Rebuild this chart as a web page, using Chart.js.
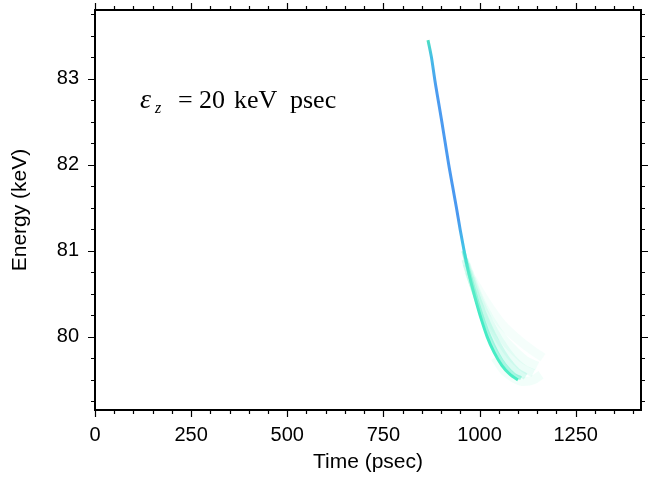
<!DOCTYPE html>
<html>
<head>
<meta charset="utf-8">
<script src="https://cdn.jsdelivr.net/npm/chart.js@4/dist/chart.umd.min.js"></script>
<style>
  html, body { margin: 0; padding: 0; background: #ffffff; }
  #wrap { width: 648px; height: 479px; position: relative; }
</style>
</head>
<body>
<div id="wrap"><canvas id="c" width="648" height="479"></canvas></div>
<script>
// ---- data ----
const xTickLabels = [0, 250, 500, 750, 1000, 1250];
const yTickLabels = [80, 81, 82, 83];

// main (dense) beam core: time (psec) and energy (keV)
const coreTime   = [866, 875, 884, 893, 902, 911, 920, 930, 940, 950, 960, 970, 980, 992, 1005, 1020, 1038, 1058, 1080, 1100];
const coreEnergy = [83.45, 83.25, 82.98, 82.74, 82.5, 82.25, 82.0, 81.75, 81.5, 81.24, 81.0, 80.78, 80.6, 80.4, 80.2, 80.0, 79.82, 79.67, 79.56, 79.5];

// denser tail just beside the core
const tailTime   = [958, 970, 982, 995, 1010, 1026, 1045, 1066, 1090, 1108];
const tailEnergy = [81.0, 80.8, 80.6, 80.4, 80.19, 80.0, 79.82, 79.67, 79.56, 79.52];

// faint spread of particles in the tail
const cloud1Time   = [962, 980, 1000, 1022, 1046, 1072, 1098, 1120];
const cloud1Energy = [80.9, 80.64, 80.38, 80.14, 79.92, 79.73, 79.6, 79.54];
const cloud2Time   = [966, 988, 1012, 1038, 1064, 1090, 1116, 1140];
const cloud2Energy = [80.85, 80.56, 80.3, 80.07, 79.88, 79.73, 79.63, 79.58];
const cloud3Time   = [972, 998, 1028, 1058, 1088, 1118, 1150];
const cloud3Energy = [80.76, 80.46, 80.2, 80.0, 79.85, 79.73, 79.66];
const cloud4Time   = [980, 1018, 1058, 1098, 1138, 1165];
const cloud4Energy = [80.68, 80.4, 80.15, 79.98, 79.84, 79.76];
const cloud5Time   = [1040, 1065, 1090, 1115, 1140, 1160];
const cloud5Energy = [79.76, 79.6, 79.52, 79.48, 79.5, 79.56];

const pts = (t, e) => t.map((v, i) => ({ x: v, y: e[i] }));

function coreGradient(context) {
  const chart = context.chart;
  const area = chart.chartArea;
  if (!area) return '#4a98f0';
  const ys = chart.scales.y;
  const yTop = ys.getPixelForValue(83.5), yBot = ys.getPixelForValue(79.4);
  const g = chart.ctx.createLinearGradient(0, yTop, 0, yBot);
  const f = v => (ys.getPixelForValue(v) - yTop) / (yBot - yTop);
  g.addColorStop(0, '#50e8b8');
  g.addColorStop(f(83.25), '#45bde6');
  g.addColorStop(f(82.9), '#4c9cf0');
  g.addColorStop(f(81.4), '#4a98f0');
  g.addColorStop(f(81.0), '#42c6e6');
  g.addColorStop(f(80.7), '#40e8c8');
  g.addColorStop(1, '#48f0c4');
  return g;
}

function cloudSet(t, e, color, width) {
  return {
    data: pts(t, e), showLine: true, borderColor: color, borderWidth: width,
    pointRadius: 0, fill: false, cubicInterpolationMode: 'monotone'
  };
}

const framePlugin = {
  id: 'frame',
  afterDraw(chart) {
    const { ctx, chartArea: a, scales } = chart;
    const xs = scales.x, ys = scales.y;
    ctx.save();
    ctx.strokeStyle = '#000';
    ctx.lineWidth = 1.2;
    ctx.beginPath();
    for (let v = 0; v <= xs.max + 0.01; v += 50) {
      const px = Math.round(xs.getPixelForValue(v)) + 0.5;
      const L = (v % 250 === 0) ? 7 : 4;
      ctx.moveTo(px, a.bottom); ctx.lineTo(px, a.bottom + L);
      ctx.moveTo(px, a.top); ctx.lineTo(px, a.top - L);
    }
    for (let k = 0; k <= 40; k++) {
      const v = 79 + k * 0.25;
      if (v < ys.min || v > ys.max) continue;
      const py = Math.round(ys.getPixelForValue(v)) + 0.5;
      const L = (Math.abs(v - Math.round(v)) < 1e-6) ? 7 : 4;
      ctx.moveTo(a.left, py); ctx.lineTo(a.left - L, py);
      ctx.moveTo(a.right, py); ctx.lineTo(a.right + L, py);
    }
    ctx.stroke();
    ctx.lineWidth = 2;
    ctx.strokeRect(a.left, a.top, a.right - a.left, a.bottom - a.top);

    // annotation
    ctx.fillStyle = '#000';
    ctx.textBaseline = 'alphabetic';
    const base = 108;
    ctx.font = 'italic 28px "Liberation Serif"';
    ctx.fillText('\u03B5', 140, base);
    ctx.font = 'italic 16px "Liberation Serif"';
    ctx.fillText('z', 155, base + 5);
    ctx.font = '26px "Liberation Serif"';
    ctx.fillText('=', 178, base);
    ctx.fillText('20', 199, base);
    ctx.fillText('keV', 234, base);
    ctx.fillText('psec', 290, base);
    ctx.restore();
  }
};

const tickFont = { family: '"Liberation Sans", Arial', size: 20 };
const titleFont = { family: '"Liberation Sans", Arial', size: 21 };

new Chart(document.getElementById('c'), {
  type: 'scatter',
  data: {
    datasets: [
      cloudSet(cloud5Time, cloud5Energy, 'rgba(130,242,210,0.10)', 9),
      cloudSet(cloud4Time, cloud4Energy, 'rgba(130,242,210,0.08)', 9),
      cloudSet(cloud3Time, cloud3Energy, 'rgba(130,242,210,0.10)', 9),
      cloudSet(cloud2Time, cloud2Energy, 'rgba(120,240,208,0.14)', 8),
      cloudSet(cloud1Time, cloud1Energy, 'rgba(100,238,200,0.24)', 7),
      cloudSet(tailTime, tailEnergy, 'rgba(70,236,196,0.45)', 4),
      {
        data: pts(coreTime, coreEnergy), showLine: true, borderColor: coreGradient,
        borderWidth: 3, pointRadius: 0, fill: false, cubicInterpolationMode: 'monotone'
      }
    ]
  },
  options: {
    responsive: false,
    animation: false,
    events: [],
    layout: { padding: { top: 10, right: 7, left: 0, bottom: 0 } },
    plugins: { legend: { display: false }, tooltip: { enabled: false } },
    scales: {
      x: {
        type: 'linear', min: 0, max: 1420,
        afterBuildTicks: s => { s.ticks = xTickLabels.map(v => ({ value: v })); },
        afterFit: s => { s.height = 69; s.paddingLeft = 0; s.paddingRight = 0; },
        grid: { display: true, drawOnChartArea: false, drawTicks: false, color: 'rgba(0,0,0,0)' },
        border: { display: false },
        ticks: { color: '#000', font: tickFont, padding: 13, maxRotation: 0, autoSkip: false, callback: v => String(v) },
        title: { display: true, text: 'Time (psec)', color: '#000', font: titleFont, padding: { top: 0, bottom: 4 } }
      },
      y: {
        type: 'linear', min: 79.15, max: 83.8,
        afterBuildTicks: s => { s.ticks = yTickLabels.map(v => ({ value: v })); },
        afterFit: s => { s.width = 95; s.paddingTop = 0; s.paddingBottom = 0; },
        grid: { display: true, drawOnChartArea: false, drawTicks: false, color: 'rgba(0,0,0,0)' },
        border: { display: false },
        ticks: { color: '#000', font: tickFont, padding: 16, autoSkip: false, callback: v => String(v) },
        title: { display: true, text: 'Energy (keV)', color: '#000', font: titleFont, padding: { top: 8, bottom: 0 } }
      }
    }
  },
  plugins: [framePlugin]
});
</script>
</body>
</html>
